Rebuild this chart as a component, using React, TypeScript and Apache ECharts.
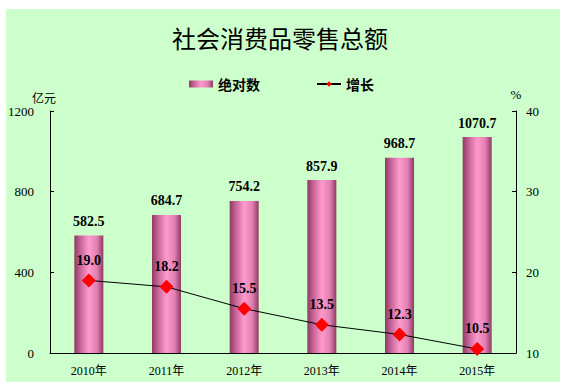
import React, { useEffect, useRef } from "react";
import * as echarts from "echarts";

const categories = ["2010年", "2011年", "2012年", "2013年", "2014年", "2015年"];
const absoluteValues = [582.5, 684.7, 754.2, 857.9, 968.7, 1070.7];
const growthValues = [19.0, 18.2, 15.5, 13.5, 12.3, 10.5];
const leftTicks = { min: 0, max: 1200, interval: 400 };
const rightTicks = { min: 10, max: 40, interval: 10 };

const SERIF = '"Liberation Serif", "Times New Roman", "Noto Sans CJK SC", serif';
const CJK = '"Noto Sans CJK SC", "Liberation Serif", serif';

export default function App() {
  const ref = useRef<HTMLDivElement>(null);
  useEffect(() => {
    if (!ref.current) return;
    const chart = echarts.init(ref.current, null, { renderer: "svg" });
    const barGradient = new echarts.graphic.LinearGradient(0, 0, 1, 0, [
      { offset: 0, color: "#8E3A62" },
      { offset: 0.22, color: "#C9669A" },
      { offset: 0.5, color: "#FF9ACC" },
      { offset: 0.78, color: "#E27FB2" },
      { offset: 1, color: "#8E3A62" },
    ]);
    chart.setOption({
      animation: false,
      backgroundColor: "#ffffff",
      graphic: [
        {
          type: "rect",
          z: -10,
          silent: true,
          shape: { x: 6, y: 9, width: 554, height: 373 },
          style: { fill: "#CCFFCC" },
        },
      ],
      title: {
        text: "社会消费品零售总额",
        left: 167,
        top: 20,
        textStyle: { fontFamily: CJK, fontSize: 24, fontWeight: "normal", color: "#000" },
      },
      legend: {
        top: 72,
        left: 184,
        itemGap: 56,
        itemWidth: 24,
        itemHeight: 7,
        textStyle: { fontFamily: CJK, fontSize: 14, fontWeight: "bold", color: "#000" },
        data: [
          { name: "绝对数", icon: "rect" },
          { name: "增长", itemStyle: { color: "#FF0000" } },
        ],
      },
      grid: { left: 50, right: 49, top: 111, bottom: 37 },
      xAxis: {
        type: "category",
        data: categories,
        axisLine: { lineStyle: { color: "#000", width: 1 } },
        axisTick: { inside: true, length: 4, lineStyle: { color: "#000" } },
        axisLabel: { fontFamily: SERIF, fontSize: 12, color: "#000", margin: 12 },
      },
      yAxis: [
        {
          type: "value",
          name: "亿元",
          nameGap: 8,
          nameTextStyle: { fontFamily: CJK, fontSize: 12, color: "#000", align: "right", padding: [0, -6, 0, 0] },
          min: leftTicks.min,
          max: leftTicks.max,
          interval: leftTicks.interval,
          splitLine: { show: false },
          axisLine: { show: true, lineStyle: { color: "#000", width: 1 } },
          axisTick: { show: true, inside: true, length: 4, lineStyle: { color: "#000" } },
          axisLabel: { fontFamily: SERIF, fontSize: 13, color: "#000", margin: 16, formatter: (v: number) => String(v) },
        },
        {
          type: "value",
          name: "%",
          nameGap: 10,
          nameTextStyle: { fontFamily: SERIF, fontSize: 13, color: "#000", align: "center" },
          min: rightTicks.min,
          max: rightTicks.max,
          interval: rightTicks.interval,
          position: "right",
          splitLine: { show: false },
          axisLine: { show: true, lineStyle: { color: "#000", width: 1 } },
          axisTick: { show: true, inside: true, length: 4, lineStyle: { color: "#000" } },
          axisLabel: { fontFamily: SERIF, fontSize: 13, color: "#000", margin: 10, formatter: (v: number) => String(v) },
        },
      ],
      series: [
        {
          name: "绝对数",
          type: "bar",
          yAxisIndex: 0,
          data: absoluteValues,
          barWidth: 29,
          itemStyle: { color: barGradient },
          label: {
            show: true,
            position: "top",
            distance: 7,
            formatter: (p: any) => p.value.toFixed(1),
            fontFamily: SERIF,
            fontSize: 14,
            fontWeight: "bold",
            color: "#000",
          },
        },
        {
          name: "增长",
          type: "line",
          yAxisIndex: 1,
          data: growthValues,
          symbol: "diamond",
          symbolSize: 14,
          lineStyle: { color: "#000", width: 1 },
          itemStyle: { color: "#FF0000" },
          label: {
            show: true,
            position: "top",
            distance: 6,
            formatter: (p: any) => p.value.toFixed(1),
            fontFamily: SERIF,
            fontSize: 14,
            fontWeight: "bold",
            color: "#000",
          },
          z: 5,
        },
      ],
    });
    return () => chart.dispose();
  }, []);
  return (
    <div
      ref={ref}
      style={{ position: "fixed", left: 0, top: 0, width: 565, height: 390 }}
    />
  );
}
